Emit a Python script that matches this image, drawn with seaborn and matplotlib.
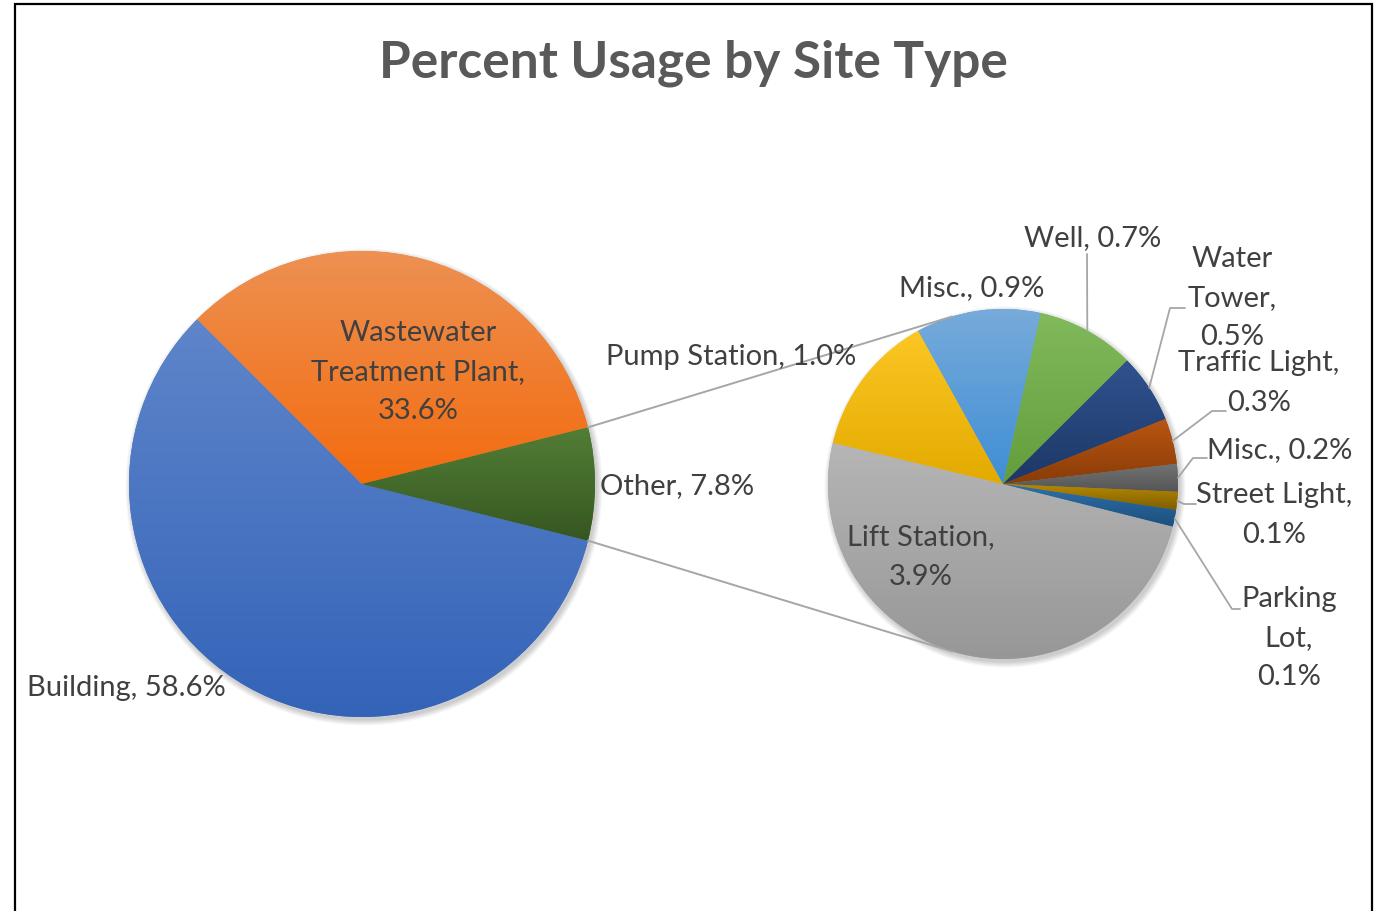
import numpy as np
import colorsys
import matplotlib
matplotlib.use("Agg")
import matplotlib.pyplot as plt
import seaborn as sns
from matplotlib.patches import Rectangle, Circle
from matplotlib.colors import to_rgb

# ---------------- data ----------------
main_names = ["Building", "Wastewater Treatment Plant"]
main_values = [58.6, 33.6]
other_name = "Other"
sub_names = ["Lift Station", "Pump Station", "Misc.", "Well", "Water Tower",
             "Traffic Light", "Misc.", "Street Light", "Parking Lot"]
sub_values = [3.9, 1.03, 0.9, 0.71, 0.5, 0.33, 0.2, 0.13, 0.12]
title = "Percent Usage by Site Type"

# ---------------- style ----------------
main_colors = ["#4472C4", "#ED7D31", "#43682B"]
sub_colors = ["#A5A5A5", "#FFC000", "#5B9BD5", "#70AD47", "#264478",
              "#9E480E", "#636363", "#997300", "#255E91"]
TEXT = "#404040"
LEADER = "#A6A6A6"
FONT = "Lato"
LSIZE = 21
LSPACE = 1.62

W, H = 1383, 912
def Y(y):
    return H - y

C1, R1 = (362, Y(485)), 233
C2, R2 = (1003, Y(485)), 175

sns.set_theme(style="white")
plt.rcParams["font.family"] = [FONT, "DejaVu Sans"]

fig = plt.figure(figsize=(W / 100, H / 100), dpi=100)
ax = fig.add_axes([0, 0, 1, 1])

other_value = sum(sub_values)
vals1 = main_values + [other_value]
names1 = main_names + [other_name]
start = -other_value / sum(vals1) * 180.0


def shade(color, dl, ds=1.0):
    h, l, s = colorsys.rgb_to_hls(*to_rgb(color))
    l = min(1, max(0, l + dl))
    s = min(1, s * ds)
    return np.array(colorsys.hls_to_rgb(h, l, s))


def grad_fill(ax, wedge, color):
    ext = wedge.get_path().get_extents()
    top = shade(color, 0.065, 0.97)
    bot = shade(color, -0.055, 1.08)
    t = np.linspace(0, 1, 256)[:, None]
    img = top[None, :] * (1 - t) + bot[None, :] * t
    img = np.repeat(img[:, None, :], 2, axis=1)
    im = ax.imshow(img, extent=(ext.x0, ext.x1, ext.y0, ext.y1), origin="upper",
                   aspect="auto", zorder=2, interpolation="bilinear")
    im.set_clip_path(wedge)


def shadow(ax, c, r):
    for k in range(10):
        ax.add_patch(Circle((c[0] + 2, c[1] - 3), r + 0.2 + k * 0.6, color="black",
                            alpha=0.018, lw=0, zorder=0.5))

shadow(ax, C1, R1)
shadow(ax, C2, R2)

w1, _ = ax.pie(vals1, colors=main_colors, startangle=start, counterclock=False,
               radius=R1, center=C1, wedgeprops=dict(linewidth=0, zorder=1))
w2, _ = ax.pie(sub_values, colors=sub_colors, startangle=start, counterclock=False,
               radius=R2, center=C2, wedgeprops=dict(linewidth=0, zorder=1))
for w, col in zip(w1, main_colors):
    grad_fill(ax, w, col)
for w, col in zip(w2, sub_colors):
    grad_fill(ax, w, col)

# ---------------- connector lines (tangents) ----------------
ang_other = np.deg2rad(-start)
p_up = np.array([C1[0] + R1 * np.cos(ang_other), C1[1] + R1 * np.sin(ang_other)])
p_dn = np.array([C1[0] + R1 * np.cos(ang_other), C1[1] - R1 * np.sin(ang_other)])


def tangent(p, c, r, upper):
    d = p - np.array(c)
    dist = np.hypot(*d)
    base = np.arctan2(d[1], d[0])
    off = np.arccos(r / dist)
    a = base - off if upper else base + off
    return np.array([c[0] + r * np.cos(a), c[1] + r * np.sin(a)])

for p, up in ((p_up, True), (p_dn, False)):
    q = tangent(p, C2, R2, up)
    ax.plot([p[0], q[0]], [p[1], q[1]], color=LEADER, lw=1.4, zorder=3)


def fmt(name, v, mode):
    s = f"{v:.1f}%"
    if mode == "inline":
        return f"{name}, {s}"
    if mode == "two":
        return f"{name},\n{s}"
    if mode == "stack":
        return "\n".join(name.split()) + f",\n{s}"
    if mode == "first":
        a, b = name.split(" ", 1)
        return f"{a}\n{b},\n{s}"

# ---------------- main labels ----------------
main_lab = [(27, 688, "left", "inline"), (418, 372, "center", "first"), (600, 486, "left", "inline")]
for n, v, (x, y, ha, mode) in zip(names1, vals1, main_lab):
    ax.text(x, Y(y), fmt(n, v, mode), ha=ha, va="center", fontsize=LSIZE, color=TEXT,
            linespacing=LSPACE, zorder=5)

# ---------------- sub labels ----------------
sub_lab = [(921, 557, "two"), (731, 357, "inline"), (972, 288, "inline"), (1093, 238, "inline"),
           (1232, 298, "stack"), (1259, 383, "two"), (1280, 450, "inline"),
           (1274, 515, "two"), (1289, 638, "stack")]
for n, v, (x, y, mode) in zip(sub_names, sub_values, sub_lab):
    ax.text(x, Y(y), fmt(n, v, mode), ha="center", va="center", fontsize=LSIZE, color=TEXT,
            linespacing=LSPACE, zorder=5)

# leaders: index -> elbow/end points
leaders = {3: [(1087, 255)],
           4: [(1170, 309), (1185, 309)],
           5: [(1212, 412), (1226, 412)],
           6: [(1193, 459), (1207, 459)],
           7: [(1184, 505), (1196, 505)],
           8: [(1232, 610), (1240, 610)]}
cum = np.cumsum([0] + sub_values)
tot = sum(sub_values)
for i, pts in leaders.items():
    mid = start - (cum[i] + cum[i + 1]) / 2 / tot * 360
    a = np.deg2rad(mid)
    e = (C2[0] + R2 * np.cos(a), C2[1] + R2 * np.sin(a))
    xs = [e[0]] + [p[0] for p in pts]
    ys = [e[1]] + [Y(p[1]) for p in pts]
    ax.plot(xs, ys, color=LEADER, lw=1.3, zorder=4)

# ---------------- title & frame ----------------
ax.text(693, Y(63), title, ha="center", va="center", fontsize=37, fontweight="bold",
        color="#595959", zorder=5)
ax.add_patch(Rectangle((15, -20), 1357, Y(5) + 20, fill=False, ec="black", lw=1.6, zorder=6))

ax.set_xlim(0, W)
ax.set_ylim(0, H)
ax.set_aspect("auto")
ax.axis("off")
fig.savefig("out.png", dpi=100)
